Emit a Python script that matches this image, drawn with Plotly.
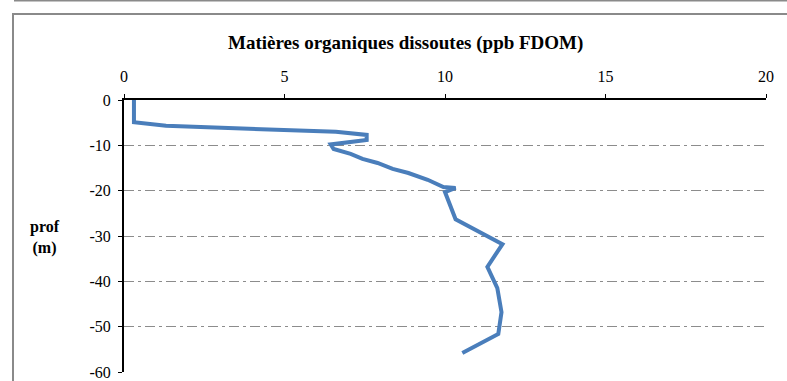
import plotly.graph_objects as go

# Dissolved organic matter profile (FDOM, ppb) versus depth (m)
fdom = [0.31, 0.31, 1.31, 6.6, 7.56, 7.56, 6.44, 6.53, 7.06, 7.43, 7.9, 8.37,
        8.86, 9.46, 9.95, 10.33, 10.0, 10.33, 11.79, 11.32, 11.63, 11.76, 11.66, 10.54]
depth = [0, -4.9, -5.7, -7.0, -7.7, -8.8, -9.8, -10.8, -11.9, -13.0, -13.9, -15.2,
         -16.1, -17.6, -19.2, -19.4, -20.3, -26.3, -31.8, -36.8, -41.5, -46.8, -51.6, -55.8]

x_ticks = [0, 5, 10, 15, 20]
y_ticks = [0, -10, -20, -30, -40, -50, -60]

title_text = "Matières organiques dissoutes (ppb FDOM)"
y_title = "prof<br>(m)"

W, H = 787, 381
L, R, T, B = 124, 21, 100, 9
pw, ph = W - L - R, H - T - B


def px_x(p):
    return (p - L) / pw


def px_y(p):
    return (H - B - p) / ph


serif = "'Times New Roman', 'Liberation Serif', Tinos, 'DejaVu Serif', serif"

fig = go.Figure()
fig.add_trace(go.Scatter(
    x=fdom, y=depth, mode="lines",
    line=dict(color="#4a7ebb", width=4),
    hoverinfo="skip", showlegend=False,
))

fig.update_layout(
    width=W, height=H,
    margin=dict(l=L, r=R, t=T, b=B, autoexpand=False),
    paper_bgcolor="white", plot_bgcolor="white",
    font=dict(family=serif, size=16, color="black"),
    xaxis=dict(
        side="top", range=[0, 20], tickvals=x_ticks,
        ticktext=[str(v) for v in x_ticks],
        showgrid=False, zeroline=False, automargin=False,
        showline=True, linecolor="black", linewidth=2,
        ticks="outside", ticklen=4, tickwidth=1, tickcolor="black",
        ticklabelstandoff=6,
        tickfont=dict(family=serif, size=16),
    ),
    yaxis=dict(
        range=[-60, 0], tickvals=y_ticks,
        ticktext=[str(v) for v in y_ticks],
        showgrid=True, gridcolor="#8c8c8c", gridwidth=1.3,
        griddash="10px,4px,3px,4px",
        zeroline=False, automargin=False,
        showline=True, linecolor="black", linewidth=2,
        ticks="outside", ticklen=4, tickwidth=1, tickcolor="black",
        ticklabelstandoff=4,
        tickfont=dict(family=serif, size=16),
    ),
    shapes=[
        # chart frame
        dict(type="rect", xref="paper", yref="paper",
             x0=px_x(13), x1=px_x(800), y0=px_y(395), y1=px_y(14),
             line=dict(color="#8a8a8a", width=2), layer="below"),
        # edge of the neighbouring frame above
        dict(type="line", xref="paper", yref="paper",
             x0=px_x(14), x1=px_x(800), y0=px_y(0.5), y1=px_y(0.5),
             line=dict(color="#8a8a8a", width=2)),
    ],
    annotations=[
        dict(text="<b>" + title_text + "</b>", xref="paper", yref="paper",
             x=px_x(405), y=px_y(43), showarrow=False,
             xanchor="center", yanchor="middle",
             font=dict(family=serif, size=19, color="black")),
        dict(text="<b>" + y_title + "</b>", xref="paper", yref="paper",
             x=px_x(45), y=px_y(237), showarrow=False,
             xanchor="center", yanchor="middle", align="center",
             font=dict(family=serif, size=16, color="black")),
    ],
)

fig.write_html("out.html")
